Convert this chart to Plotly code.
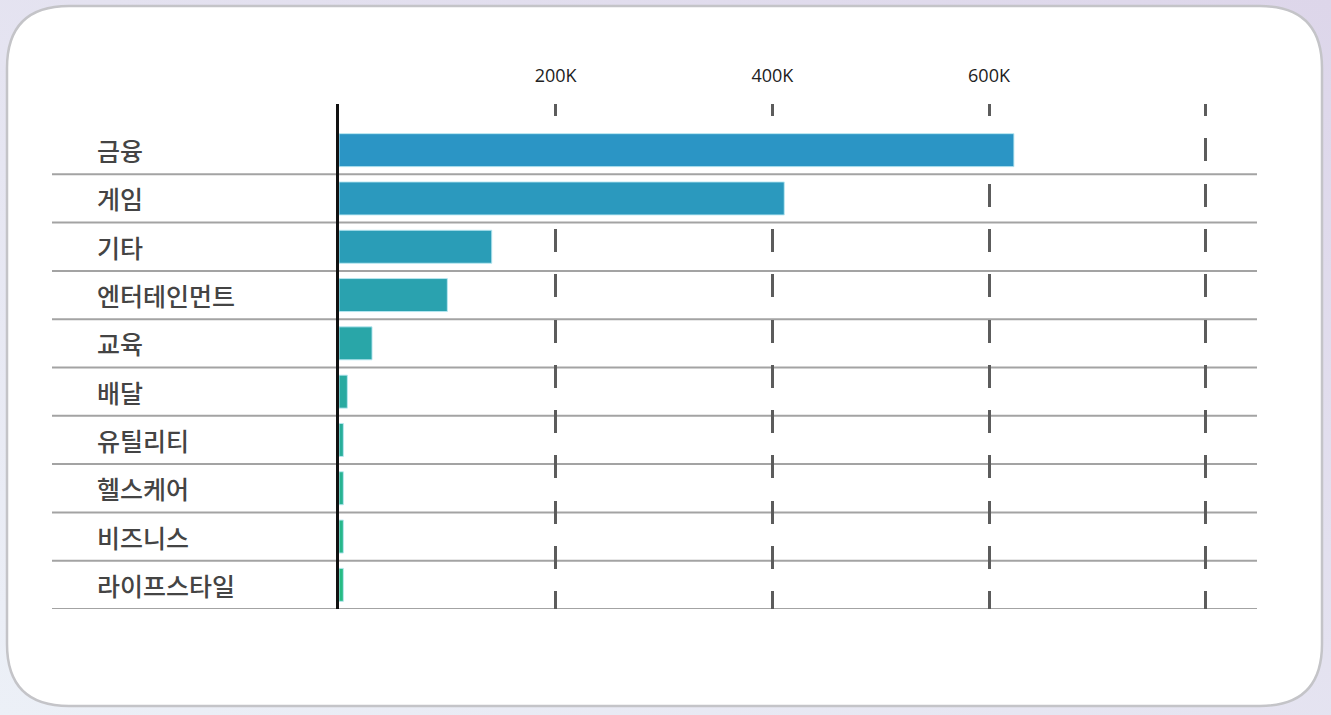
import base64
import plotly.graph_objects as go

# ---- data ----
categories = ["금융", "게임", "기타", "엔터테인먼트", "교육", "배달", "유틸리티", "헬스케어", "비즈니스", "라이프스타일"]
values = [623000, 411000, 141000, 100000, 30500, 7700, 4000, 4000, 4000, 4000]
tick_values = [200000, 400000, 600000, 800000]
tick_labels = ["200K", "400K", "600K", ""]

# ---- layout constants (pixels) ----
W, H = 1331, 715
L, R, T, B = 339, 1257, 104, 609
PW, PH = R - L, B - T

def px_x(px):
    return (px - L) / PW

def px_y(py):
    return (B - py) / PH

# rounded card path in paper coords
def rounded_rect(x0, y0, x1, y1, r):
    X0, X1 = px_x(x0), px_x(x1)
    Y0, Y1 = px_y(y0), px_y(y1)  # Y0 top (larger), Y1 bottom
    rx, ry = r / PW, r / PH
    return (f"M{X0 + rx},{Y0} L{X1 - rx},{Y0} Q{X1},{Y0} {X1},{Y0 - ry} "
            f"L{X1},{Y1 + ry} Q{X1},{Y1} {X1 - rx},{Y1} "
            f"L{X0 + rx},{Y1} Q{X0},{Y1} {X0},{Y1 + ry} "
            f"L{X0},{Y0 - ry} Q{X0},{Y0} {X0 + rx},{Y0} Z")

bg_svg = (
    '<svg xmlns="http://www.w3.org/2000/svg" width="1331" height="715">'
    '<defs><linearGradient id="g" x1="0" y1="1" x2="1" y2="0">'
    '<stop offset="0" stop-color="#ecf0f7"/><stop offset="1" stop-color="#ddd6ea"/>'
    '</linearGradient></defs><rect width="1331" height="715" fill="url(#g)"/></svg>'
)
bg_uri = "data:image/svg+xml;base64," + base64.b64encode(bg_svg.encode()).decode()

n = len(categories)
fig = go.Figure()
fig.add_trace(go.Bar(
    x=values,
    y=categories,
    orientation="h",
    marker=dict(
        color=list(range(n)),
        colorscale=[[0, "#2b95c5"], [1, "#27bb84"]],
        line=dict(color="rgba(185,232,242,0.9)", width=1),
    ),
    hoverinfo="x+y",
))

shapes = []
# card
shapes.append(dict(type="path", xref="paper", yref="paper", layer="below",
                   path=rounded_rect(7, 6, 1322, 706, 62),
                   fillcolor="#ffffff", line=dict(color="#c4c4c8", width=2.5)))
# row separators
for i in range(n):
    shapes.append(dict(type="line", xref="paper", yref="y", layer="below",
                       x0=px_x(52), x1=1.0, y0=i + 0.5, y1=i + 0.5,
                       line=dict(color="#a3a3a3", width=2)))

annotations = []
for c in categories:
    annotations.append(dict(xref="paper", yref="y", x=px_x(95), y=c,
                            text=c, showarrow=False, xanchor="left", yanchor="middle",
                            font=dict(family="Noto Sans CJK KR", size=25, color="#444444",
                                      weight=500)))

fig.update_layout(
    width=W, height=H,
    margin=dict(l=L, r=W - R, t=T, b=H - B, pad=0),
    paper_bgcolor="#e6e4f0",
    plot_bgcolor="rgba(0,0,0,0)",
    showlegend=False,
    bargap=0.317,
    shapes=shapes,
    annotations=annotations,
    images=[dict(source=bg_uri, xref="paper", yref="paper",
                 x=px_x(0), y=px_y(0), sizex=W / PW, sizey=H / PH,
                 xanchor="left", yanchor="top", sizing="stretch", layer="below")],
    xaxis=dict(
        side="top", range=[0, (R - L) / (1206 - 556) * 600000],
        tickvals=tick_values, ticktext=tick_labels,
        ticks="", ticklabelstandoff=17,
        tickfont=dict(family="Open Sans", size=18, color="#222222"),
        showgrid=True, gridcolor="#5c5c5c", gridwidth=2.5,
        griddash="12px,22.3px,11px,0px",
        zeroline=False, showline=False, fixedrange=True,
    ),
    yaxis=dict(
        type="category", categoryorder="array", categoryarray=categories,
        range=[n - 0.5, -0.5 - (22 / 48.3)],
        showticklabels=False, showgrid=False, zeroline=False,
        showline=True, linecolor="#111111", linewidth=3, fixedrange=True,
    ),
)

fig.write_html("out.html", config={"displayModeBar": False},
               post_script="document.body.style.margin='0';document.body.style.overflow='hidden';")
